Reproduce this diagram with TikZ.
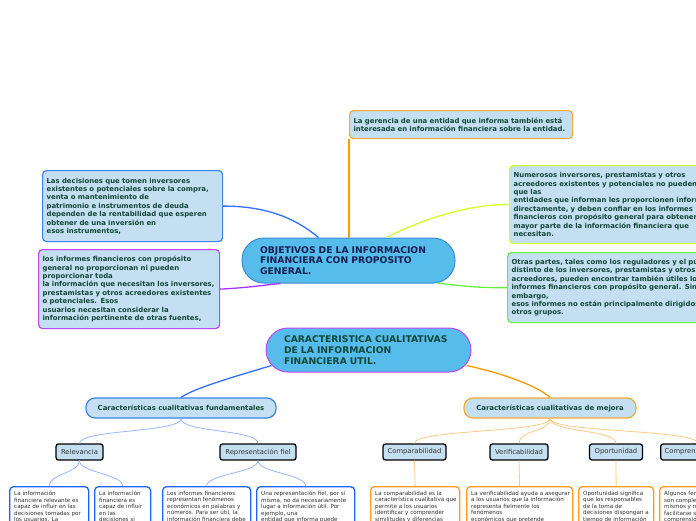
\documentclass[tikz,border=0pt]{standalone}
\usepackage{fontspec}
\setmainfont{DejaVu Sans}
\usetikzlibrary{calc}
\definecolor{boxfill}{RGB}{197,223,242}
\definecolor{mainfill}{RGB}{86,188,235}
\definecolor{mainblue}{RGB}{55,140,210}
\definecolor{txtgreen}{RGB}{15,70,55}
\definecolor{txtnavy}{RGB}{20,30,80}
\definecolor{corange}{RGB}{255,153,0}
\definecolor{borange}{RGB}{245,170,50}
\definecolor{cblue}{RGB}{50,110,255}
\definecolor{bblue}{RGB}{60,130,235}
\definecolor{cpurple}{RGB}{170,50,255}
\definecolor{bpurple}{RGB}{190,70,240}
\definecolor{cyellow}{RGB}{210,255,40}
\definecolor{cgreen}{RGB}{100,240,60}
\definecolor{lblue}{RGB}{150,180,255}
\definecolor{lorange}{RGB}{255,200,130}
\definecolor{wblue}{RGB}{30,100,245}
\definecolor{worange}{RGB}{255,155,30}
\definecolor{greytxt}{RGB}{50,50,50}
\tikzset{
  tbox/.style={draw, fill=boxfill, rounded corners=4pt, line width=1.2pt, anchor=north west,
    align=left, inner xsep=4pt, inner ysep=0pt, text=txtgreen,
    font=\fontsize{6.9}{8.4}\selectfont\bfseries},
  mainnode/.style={draw, fill=mainfill, rounded corners=22pt, line width=1pt, align=left,
    inner xsep=18pt, inner ysep=0pt, font=\fontsize{9.2}{10.8}\selectfont\bfseries},
  lvltwo/.style={draw, fill=boxfill, rounded corners=9pt, line width=1.2pt, text=txtgreen,
    minimum height=20pt, inner sep=0pt, font=\fontsize{6.9}{8}\selectfont\bfseries},
  lvlthree/.style={draw=black, fill=boxfill, rounded corners=2.5pt, line width=1.3pt, text=greytxt,
    minimum height=16pt, inner sep=0pt, font=\fontsize{6.8}{8}\selectfont},
  wbox/.style={draw, fill=white, rounded corners=4pt, line width=1.3pt, anchor=north west,
    minimum height=60pt, inner sep=0pt},
  wtext/.style={anchor=north west, align=left, inner sep=0pt, text=greytxt,
    font=\fontsize{5.6}{6.5}\selectfont},
  conn/.style={line width=1.3pt},
  thin/.style={line width=0.8pt}
}
\begin{document}
\begin{tikzpicture}[x=1pt,y=-1pt]
\useasboundingbox (0,0) rectangle (696,520);

% top-level boxes
\node[tbox, draw=borange, minimum width=223pt, minimum height=28pt, text width=215pt] (top) at (349,110)
 {La gerencia de una entidad que informa también está\\interesada en información financiera sobre la entidad.};
\node[tbox, draw=bblue, minimum width=180pt, minimum height=71pt, text width=172pt] (lbone) at (42,170)
 {Las decisiones que tomen inversores\\existentes o potenciales sobre la compra,\\venta o mantenimiento de\\patrimonio e instrumentos de deuda\\dependen de la rentabilidad que esperen\\obtener de una inversión en\\esos instrumentos,};
\node[tbox, draw=bpurple, minimum width=181pt, minimum height=79pt, text width=173pt] (lbtwo) at (38,249)
 {los informes financieros con propósito\\general no proporcionan ni pueden\\proporcionar toda\\la información que necesitan los inversores,\\prestamistas y otros acreedores existentes\\o potenciales. Esos\\usuarios necesitan considerar la\\información pertinente de otras fuentes,};
\node[tbox, draw=cyellow, minimum width=250pt, minimum height=78pt, text width=242pt] (rbone) at (509,165)
 {Numerosos inversores, prestamistas y otros\\acreedores existentes y potenciales no pueden requerir\\que las\\entidades que informan les proporcionen información\\directamente, y deben confiar en los informes\\financieros con propósito general para obtener la\\mayor parte de la información financiera que\\necesitan.};
\node[tbox, draw=cgreen, minimum width=250pt, minimum height=70pt, text width=242pt] (rbtwo) at (507,252)
 {Otras partes, tales como los reguladores y el público\\distinto de los inversores, prestamistas y otros\\acreedores, pueden encontrar también útiles los\\informes financieros con propósito general. Sin\\embargo,\\esos informes no están principalmente dirigidos a\\otros grupos.};

% main nodes
\node[mainnode, draw=mainblue, text=txtnavy, minimum width=213pt, minimum height=45pt, text width=177pt] (obj) at (348.5,260.5)
 {OBJETIVOS DE LA INFORMACION\\FINANCIERA CON PROPOSITO\\GENERAL.};
\node[mainnode, draw=bpurple, text=txtgreen, minimum width=205pt, minimum height=44pt, text width=169pt] (car) at (368.5,350)
 {CARACTERISTICA CUALITATIVAS\\DE LA INFORMACION\\FINANCIERA UTIL.};

% connectors top level
\draw[conn, corange] (top.south west) -- (top.south west |- obj.north);
\draw[conn, cblue] (lbone.east) .. controls (272,206) and (300,222) .. ($(obj.north)+(-30,0)$);
\draw[conn, cyellow] ($(obj.north)+(38,0)$) .. controls (425,218) and (470,204) .. (rbone.west);
\draw[conn, cpurple] (lbtwo.east) .. controls (245,288) and (265,285) .. ($(obj.south)+(-68,0)$);
\draw[conn, cgreen] ($(obj.south)+(89,-0.5)$) .. controls (460,286) and (480,288) .. (rbtwo.west);

% level two
\node[lvltwo, draw=bblue, minimum width=190pt] (fund) at (181,408) {Características cualitativas fundamentales};
\node[lvltwo, draw=borange, minimum width=172pt] (mej) at (550,408) {Características cualitativas de mejora};
\draw[conn, cblue] ($(car.south west)+(6,-7)$) .. controls (230,378) and (195,388) .. (fund.north);
\draw[conn, corange] ($(car.south east)+(-5,-7)$) .. controls (510,375) and (540,388) .. (mej.north);

% level three
\node[lvlthree, minimum width=47pt] (rel) at (79.5,452) {Relevancia};
\node[lvlthree, minimum width=76pt] (rep) at (258,452) {Representación fiel};
\node[lvlthree, minimum width=63pt] (comp) at (414.5,452) {Comparabilidad};
\node[lvlthree, minimum width=58pt] (ver) at (519,452) {Verificabilidad};
\node[lvlthree, minimum width=53pt] (opo) at (616,452) {Oportunidad};
\node[lvlthree, minimum width=78pt, anchor=west, text width=70pt, align=left] (compr) at (660,452) {Comprensibilidad};

\foreach \c in {rel,rep}
  \draw[thin, lblue] (fund.south) .. controls ($(fund.south)+(0,14)$) and ($(\c.north)+(0,-14)$) .. (\c.north);
\foreach \c in {comp,ver,opo}
  \draw[thin, lorange] (mej.south) .. controls ($(mej.south)+(0,14)$) and ($(\c.north)+(0,-14)$) .. (\c.north);
\draw[thin, lorange] (mej.south) .. controls ($(mej.south)+(0,14)$) and ($(compr.north west)+(38,-14)$) .. ($(compr.north west)+(38,0)$);

% level four boxes
\node[wbox, draw=wblue, minimum width=79pt] (bone) at (9,486) {};
\node[wbox, draw=wblue, minimum width=56pt] (btwo) at (94,486) {};
\node[wbox, draw=wblue, minimum width=88pt] (bthree) at (162,486) {};
\node[wbox, draw=wblue, minimum width=98pt] (bfour) at (256,486) {};
\node[wbox, draw=worange, minimum width=89pt] (bfive) at (370,486) {};
\node[wbox, draw=worange, minimum width=106pt] (bsix) at (466,486) {};
\node[wbox, draw=worange, minimum width=75pt] (bseven) at (578,486) {};
\node[wbox, draw=worange, minimum width=80pt] (beight) at (659,486) {};

\node[wtext] (tone) at ($(bone.north west)+(5,5)$) {La información\\financiera relevante es\\capaz de influir en las\\decisiones tomadas por\\los usuarios. La};
\node[wtext] (ttwo) at ($(btwo.north west)+(5,5)$) {La información\\financiera es\\capaz de influir\\en las\\decisiones si};
\node[wtext] (tthree) at ($(bthree.north west)+(5,5)$) {Los informes financieros\\representan fenómenos\\económicos en palabras y\\números. Para ser útil, la\\información financiera debe};
\node[wtext] (tfour) at ($(bfour.north west)+(5,5)$) {Una representación fiel, por sí\\misma, no da necesariamente\\lugar a información útil. Por\\ejemplo, una\\entidad que informa puede};
\node[wtext] (tfive) at ($(bfive.north west)+(5,5)$) {La comparabilidad es la\\característica cualitativa que\\permite a los usuarios\\identificar y comprender\\similitudes y diferencias};
\node[wtext] (tsix) at ($(bsix.north west)+(5,5)$) {La verificabilidad ayuda a asegurar\\a los usuarios que la información\\representa fielmente los\\fenómenos\\económicos que pretende};
\node[wtext] (tseven) at ($(bseven.north west)+(5,5)$) {Oportunidad significa\\que los responsables\\de la toma de\\decisiones dispongan a\\tiempo de información};
\node[wtext] (teight) at ($(beight.north west)+(5,5)$) {Algunos fenómenos\\son complejos en sí\\mismos y no pueden\\facilitarse su\\comprensión};

\foreach \p/\c in {rel/bone, rel/btwo, rep/bthree, rep/bfour}
  \draw[thin, lblue] (\p.south) .. controls ($(\p.south)+(0,12)$) and ($(\c.north)+(0,-12)$) .. (\c.north);
\foreach \p/\c in {comp/bfive, ver/bsix, opo/bseven}
  \draw[thin, lorange] (\p.south) -- (\c.north);
\draw[thin, lorange] ($(compr.south west)+(38,0)$) -- ($(beight.north west)+(38,0)$);
\end{tikzpicture}
\end{document}
